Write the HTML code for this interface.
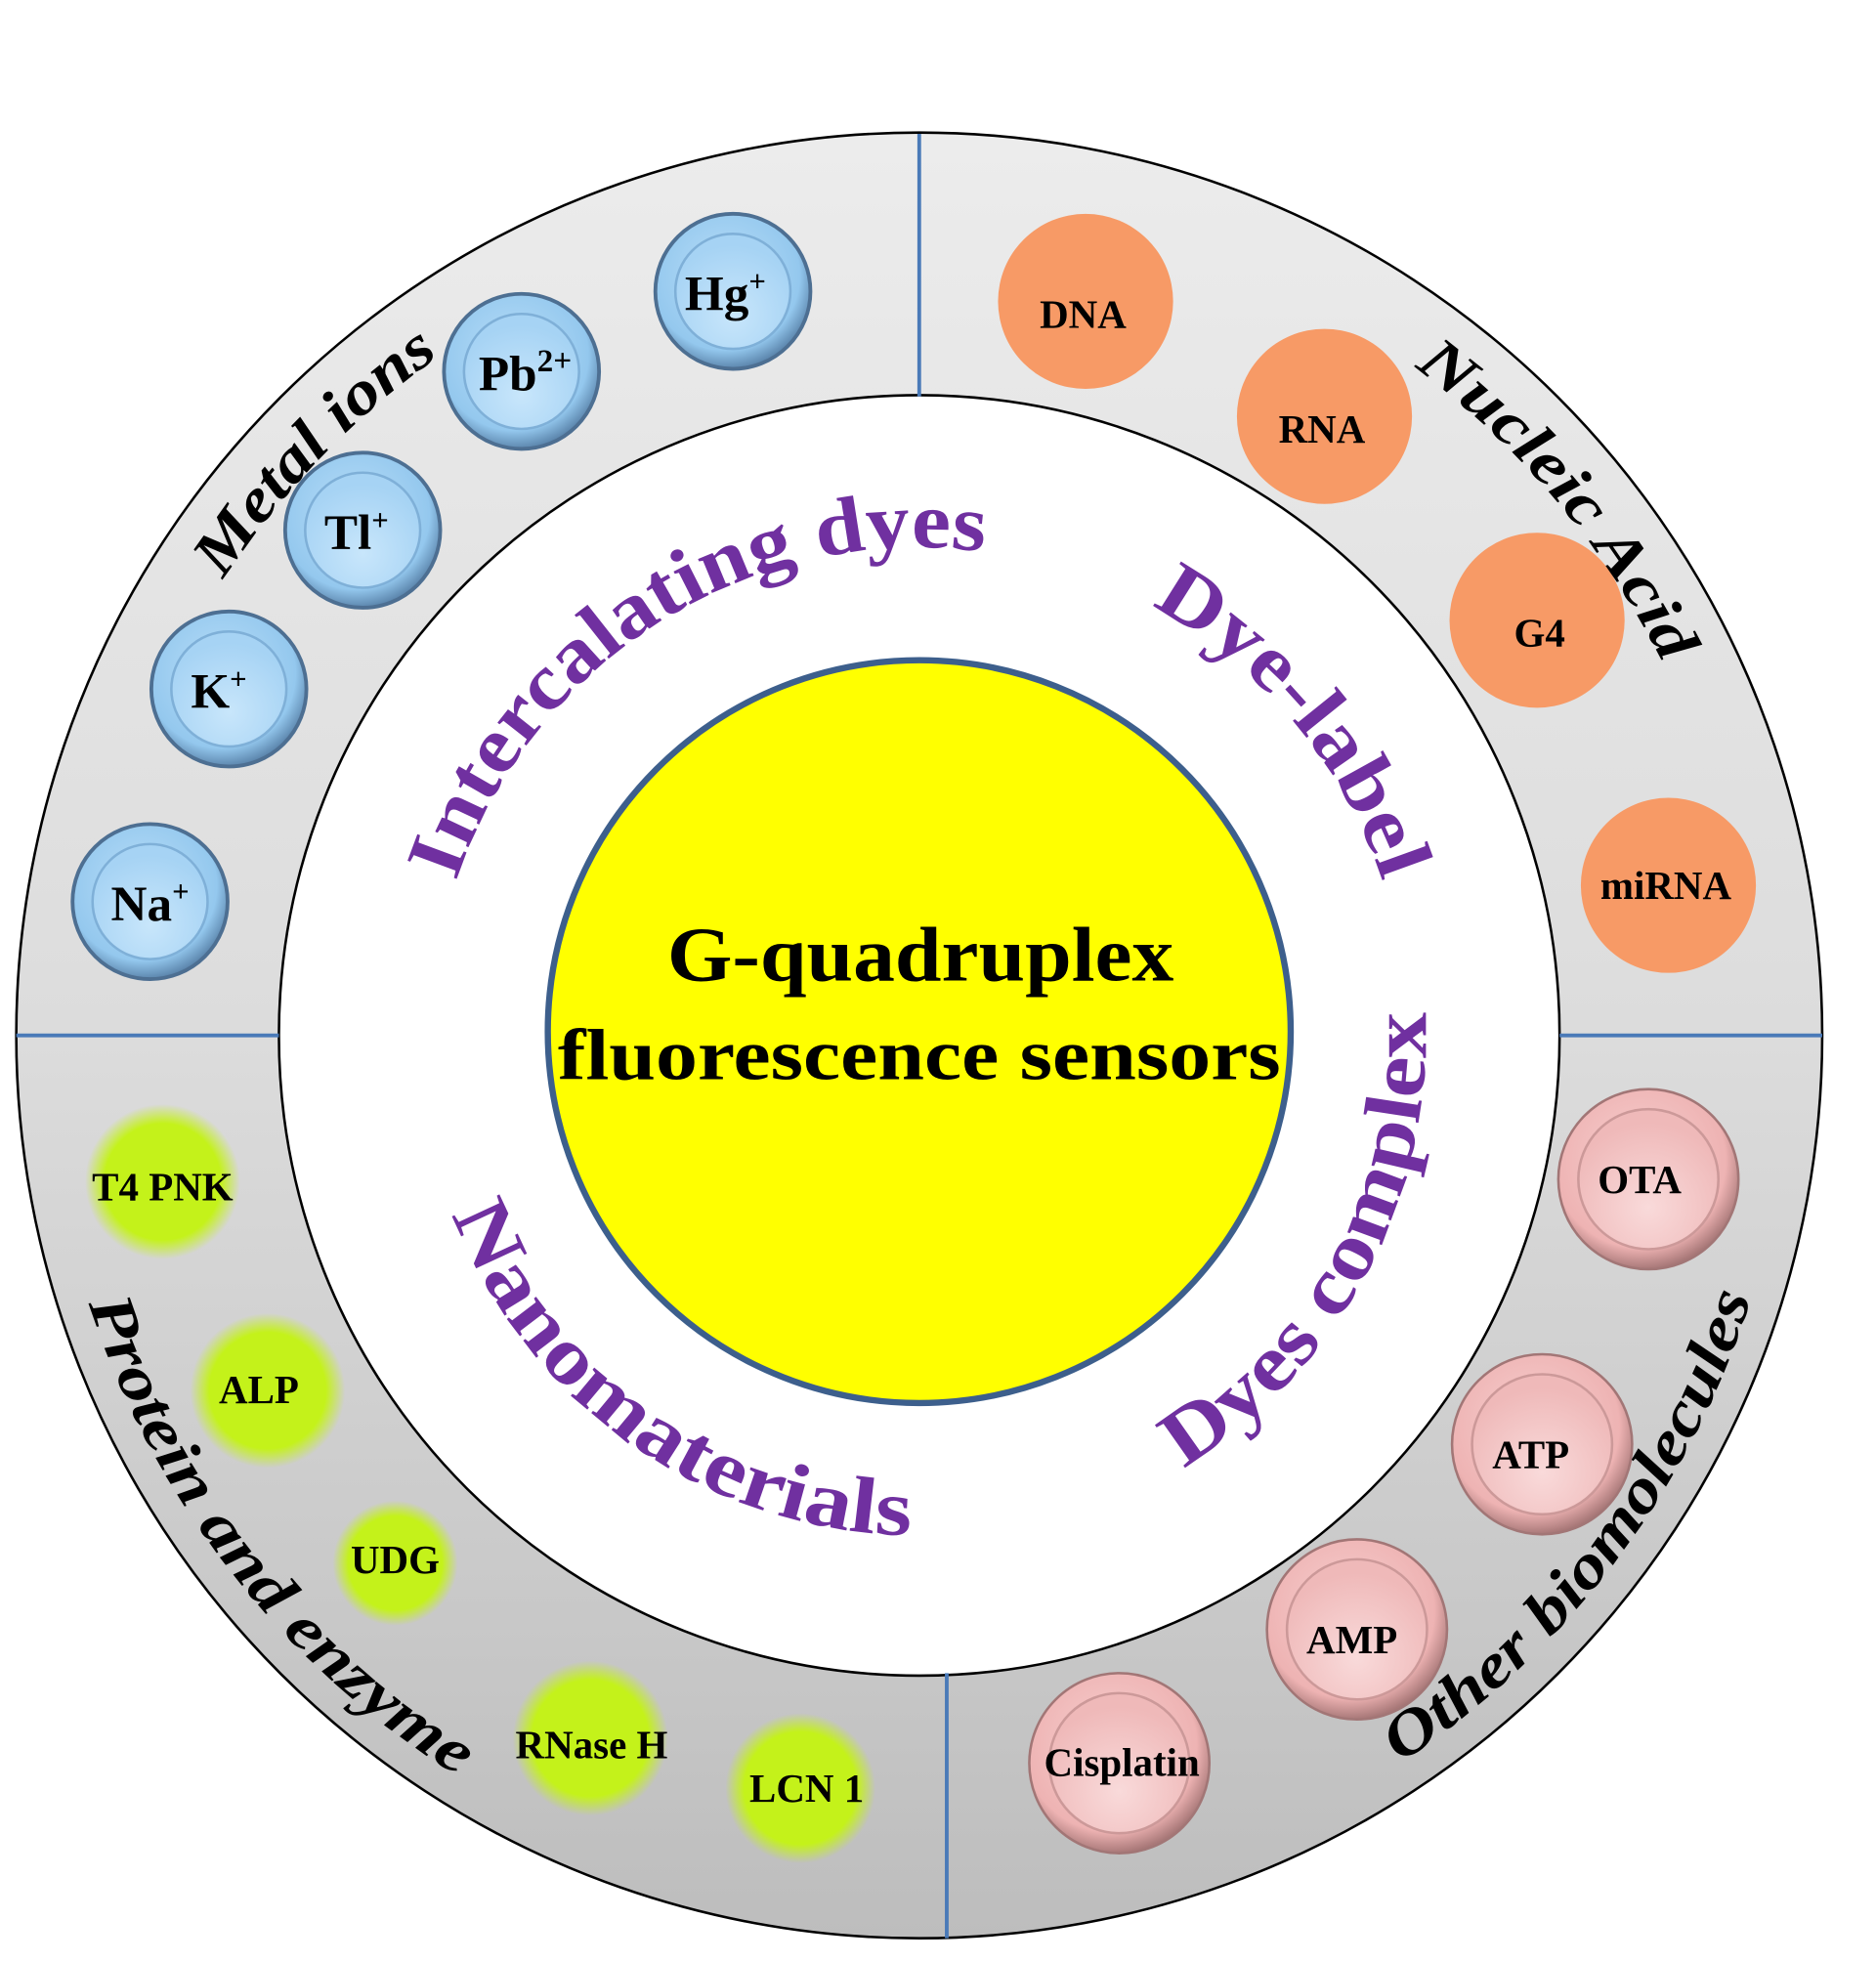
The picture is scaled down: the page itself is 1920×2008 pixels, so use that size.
<!DOCTYPE html>
<html><head><meta charset="utf-8"><style>
html,body{margin:0;padding:0;background:#fff;}
svg{display:block;}
text{font-family:"Liberation Serif",serif;font-weight:bold;}
</style></head><body>
<svg width="1920" height="2008" viewBox="0 0 1500 1569" preserveAspectRatio="none" xmlns="http://www.w3.org/2000/svg">
<defs>
<linearGradient id="ring" x1="0" y1="0" x2="0" y2="1">
<stop offset="0" stop-color="#ececec"/><stop offset="0.5" stop-color="#dcdcdc"/><stop offset="1" stop-color="#bdbdbd"/>
</linearGradient>
<radialGradient id="blueO" cx="0.45" cy="0.4" r="0.6">
<stop offset="0" stop-color="#b9def8"/><stop offset="0.8" stop-color="#94c8ee"/><stop offset="1" stop-color="#5c86ad"/>
</radialGradient>
<radialGradient id="blueI" cx="0.5" cy="0.7" r="0.6">
<stop offset="0" stop-color="#c8e6fb"/><stop offset="1" stop-color="#a6d3f4"/>
</radialGradient>
<radialGradient id="pinkO" cx="0.45" cy="0.4" r="0.6">
<stop offset="0" stop-color="#f7d0d0"/><stop offset="0.8" stop-color="#eeb3b3"/><stop offset="1" stop-color="#a87878"/>
</radialGradient>
<radialGradient id="pinkI" cx="0.5" cy="0.7" r="0.6">
<stop offset="0" stop-color="#f9dada"/><stop offset="1" stop-color="#efb9b9"/>
</radialGradient>
<radialGradient id="green" cx="0.5" cy="0.5" r="0.5">
<stop offset="0" stop-color="#c4f21a"/><stop offset="0.75" stop-color="#c4f21a"/><stop offset="1" stop-color="#c4f21a" stop-opacity="0"/>
</radialGradient>
<path id="pMetal" d="M233.1,1264.3 A665,665 0 0 1 1153.5,311.2"/>
<path id="pNuc" d="M353.6,283.2 A665,665 0 0 1 1205.2,1298.2"/>
<path id="pProt" d="M259,317.5 A698,698 0 0 0 1115.1,1413.4"/>
<path id="pOther" d="M365.1,1419.9 A698,698 0 0 0 1202,309.3"/>
<path id="pInter" d="M387.5,1005.1 A390,390 0 0 1 1046.5,593.3"/>
<path id="pDye" d="M511.3,508.5 A390,390 0 0 1 1010.8,1103.8"/>
<path id="pComp" d="M576.8,1200.8 A405,405 0 0 0 955.6,488.3"/>
<path id="pNano" d="M388.6,628 A400,400 0 0 0 1041.4,1085.1"/>
</defs>

<circle cx="735" cy="828" r="722" fill="url(#ring)" stroke="#000" stroke-width="2"/>
<circle cx="735" cy="828" r="512" fill="#fff" stroke="#000" stroke-width="2"/>
<g stroke="#4a7ab8" stroke-width="3">
<line x1="735" y1="107" x2="735" y2="317"/>
<line x1="757" y1="1338" x2="757" y2="1550"/>
<line x1="13" y1="828" x2="223" y2="828"/>
<line x1="1247" y1="828" x2="1457" y2="828"/>
</g>
<circle cx="735" cy="825" r="297" fill="#ffff00" stroke="#3d5f8c" stroke-width="5"/>
<text x="736" y="784" font-size="62" text-anchor="middle" textLength="405" lengthAdjust="spacingAndGlyphs">G-quadruplex</text>
<text x="735" y="863" font-size="58" text-anchor="middle" textLength="578" lengthAdjust="spacingAndGlyphs">fluorescence sensors</text>

<!-- blue -->
<g font-size="40" text-anchor="middle">
<g><circle cx="586" cy="233" r="62" fill="url(#blueO)" stroke="#4d6f92" stroke-width="3"/><circle cx="586" cy="233" r="46" fill="url(#blueI)" stroke="#7fb0d8" stroke-width="2"/><text x="580" y="248">Hg<tspan font-size="24" dy="-15">+</tspan></text></g>
<g><circle cx="417" cy="297" r="62" fill="url(#blueO)" stroke="#4d6f92" stroke-width="3"/><circle cx="417" cy="297" r="46" fill="url(#blueI)" stroke="#7fb0d8" stroke-width="2"/><text x="420" y="312">Pb<tspan font-size="26" dy="-15">2+</tspan></text></g>
<g><circle cx="290" cy="424" r="62" fill="url(#blueO)" stroke="#4d6f92" stroke-width="3"/><circle cx="290" cy="424" r="46" fill="url(#blueI)" stroke="#7fb0d8" stroke-width="2"/><text x="285" y="439">Tl<tspan font-size="24" dy="-15">+</tspan></text></g>
<g><circle cx="183" cy="551" r="62" fill="url(#blueO)" stroke="#4d6f92" stroke-width="3"/><circle cx="183" cy="551" r="46" fill="url(#blueI)" stroke="#7fb0d8" stroke-width="2"/><text x="175" y="566">K<tspan font-size="24" dy="-15">+</tspan></text></g>
<g><circle cx="120" cy="721" r="62" fill="url(#blueO)" stroke="#4d6f92" stroke-width="3"/><circle cx="120" cy="721" r="46" fill="url(#blueI)" stroke="#7fb0d8" stroke-width="2"/><text x="120" y="736">Na<tspan font-size="24" dy="-15">+</tspan></text></g>
</g>

<!-- orange -->
<g font-size="32" text-anchor="middle" fill="#000">
<circle cx="868" cy="241" r="70" fill="#f79a66"/><text x="866" y="262">DNA</text>
<circle cx="1059" cy="333" r="70" fill="#f79a66"/><text x="1057" y="354">RNA</text>
<circle cx="1229" cy="496" r="70" fill="#f79a66"/><text x="1231" y="517">G4</text>
<circle cx="1334" cy="708" r="70" fill="#f79a66"/><text x="1332" y="719">miRNA</text>
</g>

<!-- green -->
<g font-size="32" text-anchor="middle">
<circle cx="130" cy="945" r="62" fill="url(#green)"/><text x="130" y="960">T4 PNK</text>
<circle cx="214" cy="1112" r="62" fill="url(#green)"/><text x="207" y="1122">ALP</text>
<circle cx="316" cy="1250" r="50" fill="url(#green)"/><text x="316" y="1258">UDG</text>
<circle cx="472" cy="1390" r="62" fill="url(#green)"/><text x="473" y="1406">RNase H</text>
<circle cx="640" cy="1430" r="60" fill="url(#green)"/><text x="645" y="1441">LCN 1</text>
</g>

<!-- pink -->
<g font-size="32" text-anchor="middle">
<circle cx="1318" cy="943" r="72" fill="url(#pinkO)" stroke="#a27676" stroke-width="2"/><circle cx="1318" cy="943" r="56" fill="url(#pinkI)" stroke="#c99" stroke-width="2"/><text x="1311" y="954">OTA</text>
<circle cx="1233" cy="1155" r="72" fill="url(#pinkO)" stroke="#a27676" stroke-width="2"/><circle cx="1233" cy="1155" r="56" fill="url(#pinkI)" stroke="#c99" stroke-width="2"/><text x="1224" y="1174">ATP</text>
<circle cx="1085" cy="1303" r="72" fill="url(#pinkO)" stroke="#a27676" stroke-width="2"/><circle cx="1085" cy="1303" r="56" fill="url(#pinkI)" stroke="#c99" stroke-width="2"/><text x="1081" y="1322">AMP</text>
<circle cx="895" cy="1410" r="72" fill="url(#pinkO)" stroke="#a27676" stroke-width="2"/><circle cx="895" cy="1410" r="56" fill="url(#pinkI)" stroke="#c99" stroke-width="2"/><text x="897" y="1420">Cisplatin</text>
</g>

<!-- category labels -->
<g font-style="italic" font-size="50">
<text textLength="250" lengthAdjust="spacingAndGlyphs"><textPath href="#pMetal" startOffset="50%" text-anchor="middle">Metal ions</textPath></text>
<text textLength="313" lengthAdjust="spacingAndGlyphs"><textPath href="#pNuc" startOffset="50%" text-anchor="middle">Nucleic Acid</textPath></text>
<text textLength="490" lengthAdjust="spacingAndGlyphs"><textPath href="#pProt" startOffset="50%" text-anchor="middle">Protein and enzyme</textPath></text>
<text textLength="476" lengthAdjust="spacingAndGlyphs"><textPath href="#pOther" startOffset="50%" text-anchor="middle">Other biomolecules</textPath></text>
</g>
<g fill="#7030a0" font-size="64">
<text textLength="540" lengthAdjust="spacingAndGlyphs"><textPath href="#pInter" startOffset="50%" text-anchor="middle">Intercalating dyes</textPath></text>
<text textLength="295" lengthAdjust="spacingAndGlyphs"><textPath href="#pDye" startOffset="50%" text-anchor="middle">Dye-label</textPath></text>
<text textLength="433" lengthAdjust="spacingAndGlyphs"><textPath href="#pComp" startOffset="50%" text-anchor="middle">Dyes complex</textPath></text>
<text textLength="475" lengthAdjust="spacingAndGlyphs"><textPath href="#pNano" startOffset="50%" text-anchor="middle">Nanomaterials</textPath></text>
</g>
</svg>
</body></html>
